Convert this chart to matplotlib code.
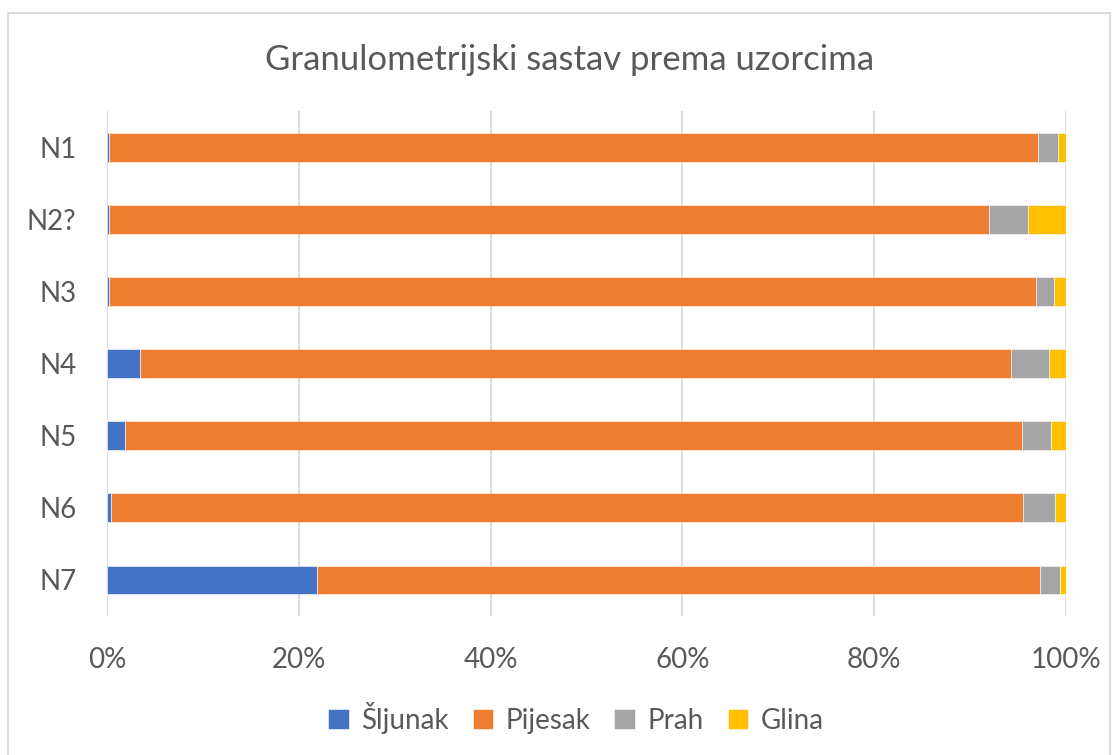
import matplotlib
matplotlib.use("Agg")
import matplotlib.pyplot as plt
import numpy as np
from matplotlib.patches import Rectangle

plt.rcParams['font.family'] = ['Lato', 'DejaVu Sans']

samples = ['N1', 'N2?', 'N3', 'N4', 'N5', 'N6', 'N7']
sljunak = [0.2, 0.25, 0.2, 3.4, 1.9, 0.4, 21.9]
pijesak = [96.9, 91.75, 96.7, 90.9, 93.5, 95.1, 75.4]
prah = [2.1, 4.0, 1.8, 3.9, 3.0, 3.4, 2.1]
glina = [0.8, 4.0, 1.3, 1.8, 1.6, 1.1, 0.6]
series = [('Šljunak', sljunak, '#4472C4'), ('Pijesak', pijesak, '#ED7D31'),
          ('Prah', prah, '#A5A5A5'), ('Glina', glina, '#FFC000')]

txt = '#595959'
fig = plt.figure(figsize=(11.18, 7.55), dpi=100)
ax = fig.add_axes([107/1118, 1-616/755, 959/1118, 505/755])

y = np.arange(len(samples))
left = np.zeros(len(samples))
for name, vals, col in series:
    vals = np.array(vals)
    ax.barh(y, vals, left=left, height=0.4, color=col, label=name,
            edgecolor='white', linewidth=0.4, zorder=3)
    left += vals

ax.set_xlim(0, 100)
ax.set_ylim(6.5, -0.5)
ax.set_yticks(y)
ax.set_yticklabels(samples)
ax.set_xticks(np.arange(0, 101, 20))
ax.set_xticklabels([f'{v}%' for v in range(0, 101, 20)])
ax.tick_params(length=0, labelsize=20, colors=txt)
ax.tick_params(axis='y', pad=22)
ax.tick_params(axis='x', pad=22)
ax.grid(axis='x', color='#D9D9D9', linewidth=1.3, zorder=0)
for s in ax.spines.values():
    s.set_visible(False)

fig.text(570/1118, 1-60/755, 'Granulometrijski sastav prema uzorcima', ha='center',
         va='center', fontsize=25, color=txt)
leg = fig.legend(loc='center', bbox_to_anchor=(576/1118, 1-718/755), ncol=4,
                 frameon=False, fontsize=20, labelcolor=txt, handlelength=0.75,
                 handleheight=0.75, handletextpad=0.45, columnspacing=0.85)
fig.patches.append(Rectangle((8/1118, -0.01), 1102/1118, 1-13/755+0.01,
                             transform=fig.transFigure, fill=False,
                             edgecolor='#D9D9D9', linewidth=1.3))
fig.savefig('out.png', dpi=100)
